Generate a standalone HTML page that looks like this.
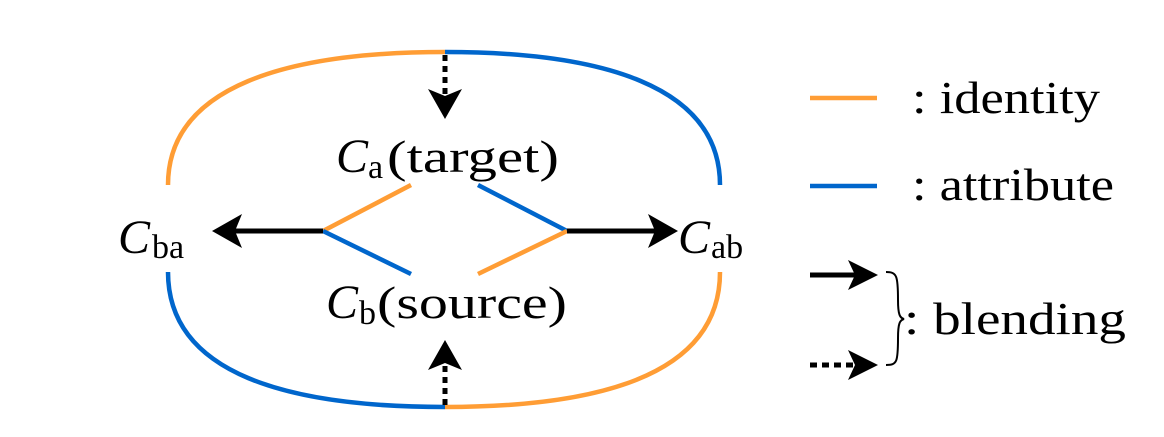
<!DOCTYPE html>
<html><head><meta charset="utf-8"><style>
html,body{margin:0;padding:0;background:#fff;}
svg{display:block;}
</style></head><body>
<svg width="1164" height="437" viewBox="0 0 1164 437">
<g fill="none" stroke-width="4.5">
<path d="M168,185 C168,85 290,52 445,52" stroke="#FF9D35"/>
<path d="M445,52 C600,52 720,85 720,185" stroke="#0066CC"/>
<path d="M168,272 C168,375 290,407 445,407" stroke="#0066CC"/>
<path d="M445,407 C600,407 720,375 720,272" stroke="#FF9D35"/>
<line x1="323" y1="231" x2="411" y2="185" stroke="#FF9D35"/>
<line x1="323" y1="231" x2="411" y2="274" stroke="#0066CC"/>
<line x1="567" y1="231" x2="478" y2="185" stroke="#0066CC"/>
<line x1="567" y1="231" x2="478" y2="274" stroke="#FF9D35"/>
<line x1="810" y1="98" x2="877" y2="98" stroke="#FF9D35"/>
<line x1="810" y1="186" x2="877" y2="186" stroke="#0066CC"/>
</g>
<g stroke="#000" stroke-width="5" fill="none">
<line x1="323" y1="231" x2="235" y2="231"/>
<line x1="567" y1="231" x2="655" y2="231"/>
<line x1="445" y1="55" x2="445" y2="100" stroke-dasharray="6,5"/>
<line x1="445" y1="405" x2="445" y2="358" stroke-dasharray="6,5"/>
<line x1="810" y1="275" x2="858" y2="275"/>
<line x1="810" y1="365" x2="858" y2="365" stroke-dasharray="7,5"/>
</g>
<g fill="#000">
<polygon points="212,231 242,214 235,231 242,248"/>
<polygon points="678,231 648,214 655,231 648,248"/>
<polygon points="445,119 428,89 445,96 462,89"/>
<polygon points="445,340 428,370 445,363 462,370"/>
<polygon points="878,275 848,260 855,275 848,290"/>
<polygon points="878,365 848,350 855,365 848,380"/>
</g>
<path d="M886,272 C897,272 898,276 898,300 C898,315 900,318 904,319 C900,320 898,323 898,338 C898,362 897,365 886,365" fill="none" stroke="#000" stroke-width="2"/>
<g font-family="Liberation Serif, DejaVu Serif, serif" fill="#000">
<text x="118" y="253" font-size="48" font-style="italic">C</text>
<text x="152" y="258" font-size="34">ba</text>
<text x="678" y="253" font-size="48" font-style="italic">C</text>
<text x="711" y="258" font-size="34">ab</text>
<text x="336" y="172" font-size="48" font-style="italic">C</text>
<text x="368" y="178" font-size="34">a</text>
<text x="387" y="172" font-size="46" textLength="172" lengthAdjust="spacingAndGlyphs">(target)</text>
<text x="326" y="318" font-size="48" font-style="italic">C</text>
<text x="359" y="324" font-size="34">b</text>
<text x="377" y="318" font-size="46" textLength="190" lengthAdjust="spacingAndGlyphs">(source)</text>
<text x="912" y="113" font-size="46" textLength="188" lengthAdjust="spacingAndGlyphs">: identity</text>
<text x="912" y="200" font-size="46" textLength="202" lengthAdjust="spacingAndGlyphs">: attribute</text>
<text x="904" y="334" font-size="46" textLength="222" lengthAdjust="spacingAndGlyphs">: blending</text>
</g>
</svg>
</body></html>
